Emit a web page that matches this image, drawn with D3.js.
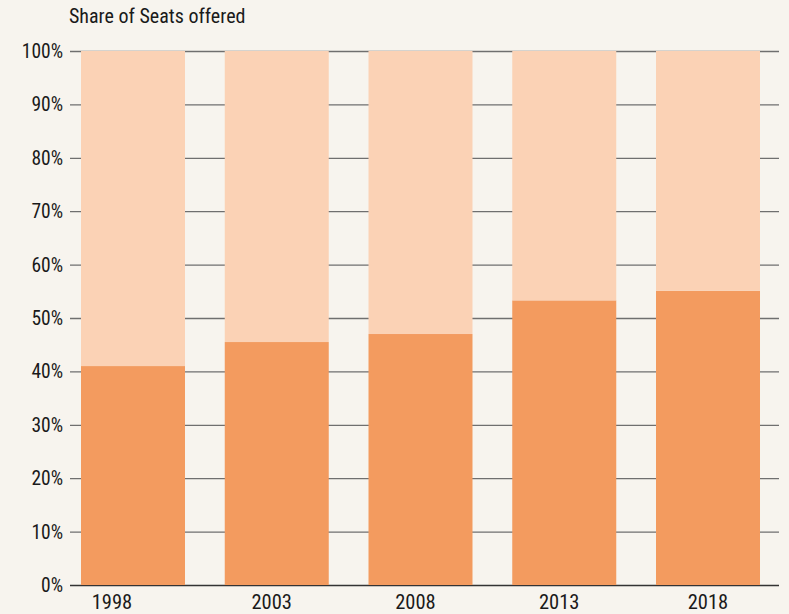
<!DOCTYPE html>
<html>
<head>
<meta charset="utf-8">
<script src="https://cdn.jsdelivr.net/npm/d3@7"></script>
<style>
  html, body { margin: 0; padding: 0; background: #f7f4ee; }
  svg { display: block; }
  text { font-family: "Liberation Sans Narrow", "Roboto Condensed", "Liberation Sans", Arial, sans-serif; fill: #1a1a1a; }
</style>
</head>
<body>
<svg id="chart" width="789" height="614"></svg>
<script>
const years = ["1998", "2003", "2008", "2013", "2018"];
const darkShare = [41.0, 45.5, 47.0, 53.3, 55.1];
const lightShare = darkShare.map(v => 100 - v);
const yTicks = [0, 10, 20, 30, 40, 50, 60, 70, 80, 90, 100];
const titleText = "Share of Seats offered";

const svg = d3.select("#chart");
const W = 789, H = 614;
svg.append("rect").attr("width", W).attr("height", H).attr("fill", "#f7f4ee");

const gridLeft = 70, gridRight = 779;
const y = d3.scaleLinear().domain([0, 100]).range([585, 51]);
const x = d3.scaleBand().domain(years).range([70, 771]).paddingInner(0.2765).paddingOuter(0.0765);

// gridlines
svg.append("g").selectAll("line").data(yTicks).join("line")
  .attr("x1", gridLeft).attr("x2", gridRight)
  .attr("y1", d => y(d) + 0.5).attr("y2", d => y(d) + 0.5)
  .attr("stroke", d => d === 0 ? "#333" : "#6f6f6f")
  .attr("stroke-width", 1.3);

// bars
const rows = years.map((yr, i) => ({ year: yr, dark: darkShare[i], light: lightShare[i] }));
const stack = d3.stack().keys(["dark", "light"])(rows);
const colors = { dark: "#f39b5f", light: "#fbd2b5" };
svg.append("g").selectAll("g").data(stack).join("g")
  .attr("fill", s => colors[s.key])
  .selectAll("rect").data(s => s).join("rect")
  .attr("x", d => x(d.data.year))
  .attr("width", x.bandwidth())
  .attr("y", d => y(d[1]))
  .attr("height", d => y(d[0]) - y(d[1]));

// y tick labels
svg.append("g").selectAll("text").data(yTicks).join("text")
  .attr("x", 63).attr("y", d => y(d) + 7)
  .attr("text-anchor", "end")
  .attr("font-size", 19.5)
  .text(d => d + "%");

// x labels (slightly nudged as in the original layout)
const labelNudge = [-21, -5, -5, -5, 0];
svg.append("g").selectAll("text").data(years).join("text")
  .attr("x", (d, i) => x(d) + x.bandwidth() / 2 + labelNudge[i])
  .attr("y", 609)
  .attr("text-anchor", "middle")
  .attr("font-size", 20.5)
  .text(d => d);

// title
svg.append("text").attr("x", 69).attr("y", 23)
  .attr("font-size", 20)
  .text(titleText);
</script>
</body>
</html>
